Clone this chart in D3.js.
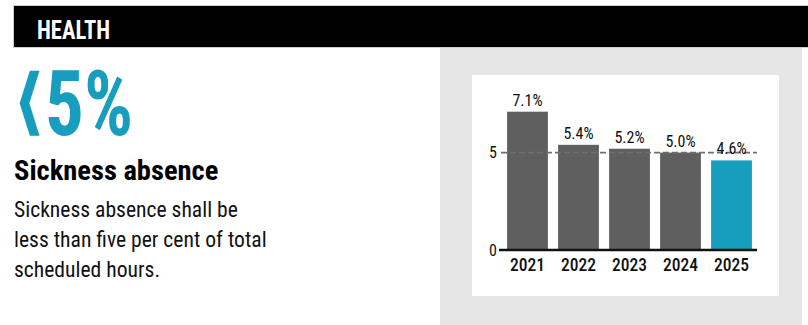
<!DOCTYPE html>
<html>
<head>
<meta charset="utf-8">
<script src="https://cdn.jsdelivr.net/npm/d3@7"></script>
<style>
  body { margin: 0; background: #fff; }
  svg text { font-family: "Roboto Condensed", "Liberation Sans Narrow", "DejaVu Sans Condensed", sans-serif; }
</style>
</head>
<body>
<div id="chart"></div>
<script>
// Data
var years = ['2021', '2022', '2023', '2024', '2025']
var values = [7.1, 5.4, 5.2, 5.0, 4.6]
var valueLabels = ['7.1%', '5.4%', '5.2%', '5.0%', '4.6%']
var yTicks = [0, 5]
var target = 5
var bodyLines = ['Sickness absence shall be', 'less than five per cent of total', 'scheduled hours.']

var width = 808
var height = 325

var svg = d3.select('#chart')
  .append('svg')
  .attr('width', width)
  .attr('height', height)

// Header bar
svg.append('rect')
  .attr('x', 13.5).attr('y', 5.5)
  .attr('width', 800).attr('height', 42)
  .attr('fill', '#000')
  .attr('stroke', '#cfcfcf')

svg.append('text')
  .text('HEALTH')
  .attr('x', 37).attr('y', 39)
  .attr('fill', '#fff')
  .attr('font-size', 25)
  .attr('font-weight', 'bold')
  .attr('textLength', 73)
  .attr('lengthAdjust', 'spacingAndGlyphs')

// Left text block: big "<5%"
svg.append('text')
  .text('\u27E8')
  .attr('x', 12).attr('y', 126)
  .attr('fill', '#179dbd')
  .attr('font-size', 73)
  .attr('font-weight', 'bold')
  .style('font-family', '"DejaVu Sans", sans-serif')

svg.append('text')
  .text('5%')
  .attr('x', 45).attr('y', 135)
  .attr('fill', '#179dbd')
  .attr('font-size', 91)
  .attr('font-weight', 'bold')
  .attr('textLength', 88)
  .attr('lengthAdjust', 'spacingAndGlyphs')

svg.append('text')
  .text('Sickness absence')
  .attr('x', 14).attr('y', 180)
  .attr('fill', '#000')
  .attr('font-size', 28.5)
  .attr('font-weight', 'bold')

svg.selectAll('.body')
  .data(bodyLines)
  .enter()
  .append('text')
  .attr('class', 'body')
  .attr('x', 14)
  .attr('y', (d, i) => 217 + i * 30)
  .attr('font-size', 21.6)
  .attr('fill', '#111')
  .text(d => d)

// Grey panel + white chart card
svg.append('rect')
  .attr('x', 440).attr('y', 48)
  .attr('width', 362).attr('height', 277)
  .attr('fill', '#e6e6e6')

svg.append('rect')
  .attr('x', 472).attr('y', 75)
  .attr('width', 307).attr('height', 221)
  .attr('fill', '#fff')

// Scales
var xScale = d3.scaleBand()
  .domain(years)
  .range([502, 757])
  .paddingInner(0.2)
  .paddingOuter(0.1)

var yScale = d3.scaleLinear()
  .domain([0, 7.1])
  .range([250, 111.7])

// Bars
svg.selectAll('.bar')
  .data(values)
  .enter()
  .append('rect')
  .attr('class', 'bar')
  .attr('x', (d, i) => xScale(years[i]))
  .attr('y', d => yScale(d))
  .attr('width', xScale.bandwidth())
  .attr('height', d => yScale(0) - yScale(d))
  .attr('fill', (d, i) => i === years.length - 1 ? '#179dbd' : '#5f5f5f')

// Target dashed line
svg.append('line')
  .attr('x1', 501).attr('x2', 757)
  .attr('y1', yScale(target)).attr('y2', yScale(target))
  .attr('stroke', '#6e6e6e')
  .attr('stroke-width', 1.6)
  .attr('stroke-dasharray', '6,3')

// Value labels
svg.selectAll('.val')
  .data(values)
  .enter()
  .append('text')
  .attr('class', 'val')
  .attr('x', (d, i) => xScale(years[i]) + xScale.bandwidth() / 2)
  .attr('y', d => yScale(d) - 6)
  .attr('text-anchor', 'middle')
  .attr('font-size', 16)
  .attr('fill', '#111')
  .text((d, i) => valueLabels[i])

// Y axis
var yAxis = d3.axisLeft(yScale)
  .tickValues(yTicks)
  .tickFormat(d3.format('d'))
  .tickSize(0)
  .tickPadding(5)

var yg = svg.append('g')
  .attr('transform', 'translate(502, 0)')
  .call(yAxis)
yg.select('.domain').remove()
yg.selectAll('text').attr('font-size', 16).attr('fill', '#111')

// Baseline
svg.append('line')
  .attr('x1', 499).attr('x2', 757)
  .attr('y1', yScale(0)).attr('y2', yScale(0))
  .attr('stroke', '#111')
  .attr('stroke-width', 2.5)

// X axis
var xAxis = d3.axisBottom(xScale).tickSize(0).tickPadding(9)
var xg = svg.append('g')
  .attr('transform', `translate(0, ${yScale(0)})`)
  .call(xAxis)
xg.select('.domain').remove()
xg.selectAll('text').attr('font-size', 17.5).attr('font-weight', 500).attr('fill', '#111')
</script>
</body>
</html>
